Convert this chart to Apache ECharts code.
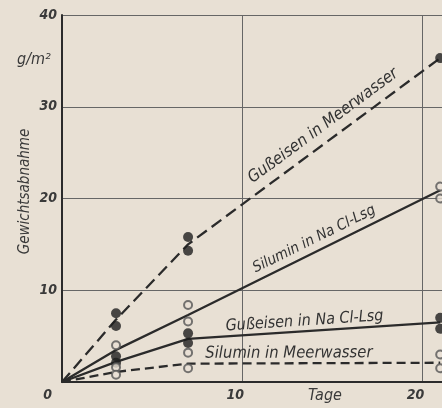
<!DOCTYPE html>
<html>
<head>
<meta charset="utf-8">
<script src="https://cdn.jsdelivr.net/npm/echarts@6/dist/echarts.min.js"></script>
<style>
html,body{margin:0;padding:0;background:#e8e0d4;}
#c{width:442px;height:408px;}
</style>
</head>
<body>
<div id="c"></div>
<script>
// ---- data ----
const curveDays = [0, 3, 7, 21];
const curveGusseisenMeer = [0, 6.8, 15.0, 35.3];
const curveSiluminNaCl   = [0, 3.5, 7.3, 20.9];
const curveGusseisenNaCl = [0, 2.2, 4.7, 6.5];
const curveSiluminMeer   = [0, 1.1, 2.0, 2.1];

const ptsGusseisenMeerX = [3, 3, 7, 7, 21];
const ptsGusseisenMeerY = [7.5, 6.1, 15.8, 14.3, 35.3];
const ptsSiluminNaClX = [3, 7, 7, 21, 21];
const ptsSiluminNaClY = [4.0, 8.4, 6.6, 21.3, 20.0];
const ptsGusseisenNaClX = [3, 3, 7, 7, 21, 21];
const ptsGusseisenNaClY = [2.8, 2.1, 5.3, 4.25, 7.0, 5.8];
const ptsSiluminMeerX = [3, 3, 7, 7, 21, 21];
const ptsSiluminMeerY = [1.6, 0.8, 3.2, 1.5, 3.0, 1.5];

const seriesNames = ['Gußeisen in Meerwasser', 'Silumin in Na Cl-Lsg', 'Gußeisen in Na Cl-Lsg', 'Silumin in Meerwasser'];
const xTicks = [0, 10, 20];
const yTicks = [10, 20, 30, 40];
const yAxisTitle = 'Gewichtsabnahme';
const yUnit = 'g/m²';
const xAxisTitle = 'Tage';

// ---- styles ----
const ink = '#2b2b2b';
const bg = '#e8e0d4';
const font = '"DejaVu Sans Condensed", "Liberation Sans Narrow", "DejaVu Sans", sans-serif';

const zip = (xs, ys) => xs.map((x, i) => [x, ys[i]]);

function lineSeries(ys, dashed) {
  return {
    type: 'line', data: zip(curveDays, ys), showSymbol: false, symbol: 'none',
    silent: true, z: 2,
    lineStyle: { color: ink, width: 2.3, type: dashed ? dashed : 'solid' }
  };
}
function ptSeries(xs, ys, filled) {
  return {
    type: 'scatter', data: zip(xs, ys), symbol: 'circle', symbolSize: filled ? 10 : 8, z: 3,
    itemStyle: filled ? { color: '#1e1e1e' } : { color: bg, borderColor: '#555', borderWidth: 2 }
  };
}

const chart = echarts.init(document.getElementById('c'), null, { renderer: 'canvas' });
const axisLabelStyle = { color: '#3a3a3a', fontFamily: font, fontStyle: 'italic', fontWeight: 'bold', fontSize: 14 };

chart.setOption({
  backgroundColor: bg,
  animation: false,
  grid: { left: 62, right: -3, top: 15, bottom: 26 },
  xAxis: {
    type: 'value', min: 0, max: 21.1, interval: 10,
    axisLine: { show: true, lineStyle: { color: ink, width: 2 } },
    axisTick: { show: false },
    splitLine: { show: true, lineStyle: { color: '#666', width: 1 } },
    axisLabel: Object.assign({}, axisLabelStyle, {
      margin: 6, align: 'right', showMaxLabel: false,
      formatter: v => xTicks.indexOf(v) >= 0 ? (v === 0 ? '{z|' + v + '}' : '{n|' + v + '}') : '',
      rich: {
        z: Object.assign({}, axisLabelStyle, { padding: [0, 10, 0, 0] }),
        n: Object.assign({}, axisLabelStyle, { padding: [0, -2, 0, 0] })
      }
    })
  },
  yAxis: {
    type: 'value', min: 0, max: 40, interval: 10,
    axisLine: { show: true, lineStyle: { color: ink, width: 2 } },
    axisTick: { show: false },
    splitLine: { show: true, lineStyle: { color: '#666', width: 1 } },
    axisLabel: Object.assign({}, axisLabelStyle, {
      margin: 5,
      formatter: v => yTicks.indexOf(v) >= 0 ? String(v) : ''
    }),
    name: yAxisTitle, nameLocation: 'middle', nameGap: 29, nameRotate: 90, nameMoveOverlap: false,
    nameTextStyle: { color: '#3a3a3a', fontFamily: font, fontStyle: 'italic', fontSize: 15, padding: [0, 0, 0, 14] }
  },
  series: [
    lineSeries(curveGusseisenMeer, [12, 6]),
    lineSeries(curveSiluminNaCl),
    lineSeries(curveGusseisenNaCl),
    lineSeries(curveSiluminMeer, [9, 5]),
    ptSeries(ptsGusseisenMeerX, ptsGusseisenMeerY, true),
    ptSeries(ptsSiluminNaClX, ptsSiluminNaClY, false),
    ptSeries(ptsGusseisenNaClX, ptsGusseisenNaClY, true),
    ptSeries(ptsSiluminMeerX, ptsSiluminMeerY, false)
  ]
});

// curve labels placed along each curve (anchor x in days, offset above the curve)
const labelCfg = [
  { curve: curveGusseisenMeer, x: 15.0, lift: 15, size: 16.5 },
  { curve: curveSiluminNaCl, x: 14.3, lift: 12, size: 15 },
  { curve: curveGusseisenNaCl, x: 13.5, lift: 10, size: 16 },
  { curve: curveSiluminMeer, x: 12.6, lift: 10, size: 16.5 }
];
function curveAt(ys, x) {
  for (let i = 0; i < curveDays.length - 1; i++) {
    if (x >= curveDays[i] && x <= curveDays[i + 1]) {
      const t = (x - curveDays[i]) / (curveDays[i + 1] - curveDays[i]);
      return ys[i] + t * (ys[i + 1] - ys[i]);
    }
  }
  return ys[ys.length - 1];
}
const graphics = labelCfg.map((c, i) => {
  const p0 = chart.convertToPixel({ gridIndex: 0 }, [c.x - 1, curveAt(c.curve, c.x - 1)]);
  const p1 = chart.convertToPixel({ gridIndex: 0 }, [c.x + 1, curveAt(c.curve, c.x + 1)]);
  const pc = chart.convertToPixel({ gridIndex: 0 }, [c.x, curveAt(c.curve, c.x)]);
  const ang = Math.atan2(-(p1[1] - p0[1]), p1[0] - p0[0]);
  const nx = -Math.sin(ang), ny = -Math.cos(ang);
  return {
    type: 'text', x: pc[0] + nx * c.lift, y: pc[1] + ny * c.lift, rotation: ang,
    style: { text: seriesNames[i], fill: '#333', font: 'italic ' + c.size + 'px ' + font, align: 'center', verticalAlign: 'middle' },
    z: 10
  };
});
graphics.push({
  type: 'text', left: 17, top: 52,
  style: { text: yUnit, fill: '#3a3a3a', font: 'italic 16px ' + font }
});
const tp = chart.convertToPixel({ gridIndex: 0 }, [14.6, 0]);
graphics.push({
  type: 'text', x: tp[0], y: tp[1] + 14,
  style: { text: xAxisTitle, fill: '#3a3a3a', font: 'italic 16px ' + font, align: 'center', verticalAlign: 'middle' }
});
chart.setOption({ graphic: graphics });
</script>
</body>
</html>
